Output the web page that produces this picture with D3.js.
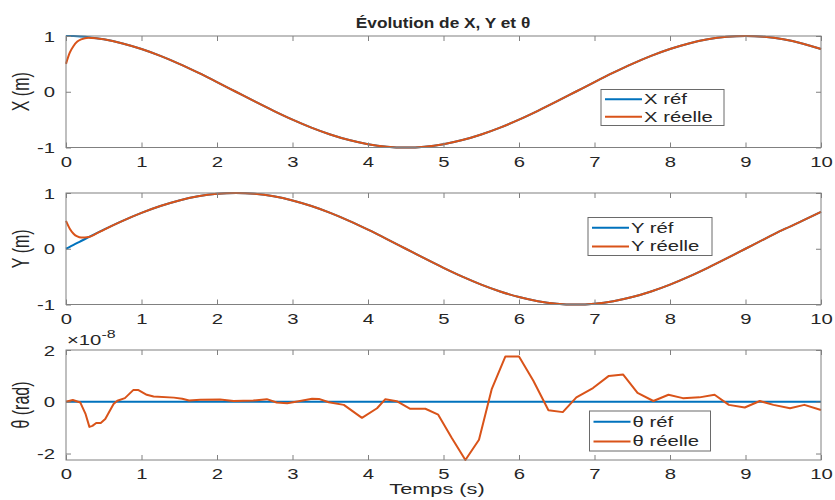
<!DOCTYPE html>
<html>
<head>
<meta charset="utf-8">
<script src="https://cdn.jsdelivr.net/npm/d3@7"></script>
<style>
  body { margin: 0; background: #fff; }
  text { font-family: "Liberation Sans", Arial, sans-serif; fill: #262626; }
</style>
</head>
<body>
<div id="chart"></div>
<script>
// time samples (s) for X and Y
var timeXY = [0, 0.05, 0.1, 0.15, 0.2, 0.3, 0.4, 0.5,
  0.75, 1, 1.25, 1.5, 1.75, 2, 2.25, 2.5, 2.75, 3, 3.25, 3.5, 3.75, 4, 4.25, 4.5,
  4.75, 5, 5.25, 5.5, 5.75, 6, 6.25, 6.5, 6.75, 7, 7.25, 7.5, 7.75, 8, 8.25, 8.5,
  8.75, 9, 9.25, 9.5, 9.75, 10];

var xRef = [1, 0.999, 0.998, 0.995, 0.99, 0.978, 0.961, 0.94,
  0.866, 0.766, 0.643, 0.5, 0.342, 0.174, 0, -0.174, -0.342, -0.5, -0.643, -0.766, -0.866, -0.94, -0.985, -1,
  -0.985, -0.94, -0.866, -0.766, -0.643, -0.5, -0.342, -0.174, 0, 0.174, 0.342, 0.5, 0.643, 0.766, 0.866, 0.94,
  0.985, 1, 0.985, 0.94, 0.866, 0.766];
var xReal = [0.5, 0.7, 0.82, 0.9, 0.94, 0.97, 0.96, 0.94,
  0.866, 0.766, 0.643, 0.5, 0.342, 0.174, 0, -0.174, -0.342, -0.5, -0.643, -0.766, -0.866, -0.94, -0.985, -1,
  -0.985, -0.94, -0.866, -0.766, -0.643, -0.5, -0.342, -0.174, 0, 0.174, 0.342, 0.5, 0.643, 0.766, 0.866, 0.94,
  0.985, 1, 0.985, 0.94, 0.866, 0.766];

var yRef = [0, 0.035, 0.07, 0.105, 0.139, 0.208, 0.276, 0.342,
  0.5, 0.643, 0.766, 0.866, 0.94, 0.985, 1, 0.985, 0.94, 0.866, 0.766, 0.643, 0.5, 0.342, 0.174, 0,
  -0.174, -0.342, -0.5, -0.643, -0.766, -0.866, -0.94, -0.985, -1, -0.985, -0.94, -0.866, -0.766, -0.643, -0.5, -0.342,
  -0.174, 0, 0.174, 0.342, 0.5, 0.66];
var yReal = [0.5, 0.36, 0.27, 0.22, 0.2, 0.21, 0.27, 0.34,
  0.5, 0.643, 0.766, 0.866, 0.94, 0.985, 1, 0.985, 0.94, 0.866, 0.766, 0.643, 0.5, 0.342, 0.174, 0,
  -0.174, -0.342, -0.5, -0.643, -0.766, -0.866, -0.94, -0.985, -1, -0.985, -0.94, -0.866, -0.766, -0.643, -0.5, -0.342,
  -0.174, 0, 0.174, 0.342, 0.5, 0.66];

// theta, in units of 1e-8 rad
var timeThetaRef = [0, 10];
var thetaRef = [0, 0];
var timeTheta = [0, 0.09, 0.19, 0.26, 0.31, 0.35, 0.4, 0.46, 0.52, 0.63, 0.68, 0.78, 0.89, 0.96,
  1.07, 1.16, 1.43, 1.54, 1.63, 1.78, 2.04, 2.22, 2.48, 2.66, 2.79, 2.93, 3.1, 3.26, 3.35, 3.48,
  3.68, 3.92, 4.12, 4.23, 4.38, 4.56, 4.76, 4.93, 5.11, 5.29, 5.47, 5.64, 5.82, 6, 6.19, 6.39,
  6.58, 6.76, 6.98, 7.19, 7.38, 7.57, 7.78, 7.98, 8.17, 8.39, 8.59, 8.78, 8.99, 9.19, 9.37, 9.59,
  9.78, 10];
var thetaReal = [0, 0.07, -0.03, -0.48, -0.97, -0.93, -0.82, -0.82, -0.67, -0.09, 0.04, 0.14, 0.45, 0.45,
  0.27, 0.2, 0.16, 0.12, 0.05, 0.08, 0.09, 0.03, 0.05, 0.1, -0.03, -0.06, 0.03, 0.12, 0.11, -0.02,
  -0.12, -0.62, -0.25, 0.1, 0.02, -0.27, -0.27, -0.5, -1.4, -2.25, -1.47, 0.5, 1.75, 1.75, 0.81, -0.33,
  -0.4, 0.17, 0.53, 1, 1.05, 0.34, 0.03, 0.27, 0.14, 0.17, 0.27, -0.12, -0.22, 0.03, -0.12, -0.25,
  -0.12, -0.32];

var xTicks = [0, 1, 2, 3, 4, 5, 6, 7, 8, 9, 10];
var blue = "#0072BD", orange = "#D95319";

var svgWidth = 835, svgHeight = 500;
var left = 66, right = 821;
var sx = 1.45; // wide glyphs of the original

var svg = d3.select("#chart").append("svg")
  .attr("width", svgWidth)
  .attr("height", svgHeight);

var xScale = d3.scaleLinear().domain([0, 10]).range([left, right]);
var fmt = d => String(d); // plain hyphen minus, as in the original

var panels = [
  { top: 36, bottom: 147.5, domain: [-1, 1], ticks: [-1, 0, 1], ylabel: "X (m)",
    series: [[timeXY, xRef, "X réf"], [timeXY, xReal, "X réelle"]],
    legend: { x: 601, y: 89.5, w: 123, h: 36 } },
  { top: 193, bottom: 304.5, domain: [-1, 1], ticks: [-1, 0, 1], ylabel: "Y (m)",
    series: [[timeXY, yRef, "Y réf"], [timeXY, yReal, "Y réelle"]],
    legend: { x: 588, y: 217.5, w: 124, h: 38 } },
  { top: 350, bottom: 460, domain: [-2.25, 2], ticks: [-2, 0, 2], ylabel: "θ (rad)",
    series: [[timeThetaRef, thetaRef, "θ réf"], [timeTheta, thetaReal, "θ réelle"]],
    legend: { x: 589.5, y: 411, w: 121, h: 40 } }
];

var colors = [blue, orange];

panels.forEach(function(p, i) {
  var yScale = d3.scaleLinear().domain(p.domain).range([p.bottom, p.top]);
  var g = svg.append("g");

  // lines
  p.series.forEach(function(s, k) {
    var pts = s[0].map(function(t, j) { return [t, s[1][j]]; });
    g.append("path")
      .datum(pts)
      .attr("fill", "none")
      .attr("stroke", colors[k])
      .attr("stroke-width", 2)
      .attr("stroke-linejoin", "round")
      .attr("d", d3.line()
        .x(d => xScale(d[0]))
        .y(d => yScale(d[1]))
        .curve(i < 2 ? d3.curveMonotoneX : d3.curveLinear));
  });

  // axes with inward ticks on all four sides
  var axB = g.append("g").attr("transform", `translate(0,${p.bottom})`)
    .call(d3.axisBottom(xScale).tickValues(xTicks).tickSize(-5).tickFormat(fmt));
  var axT = g.append("g").attr("transform", `translate(0,${p.top})`)
    .call(d3.axisTop(xScale).tickValues(xTicks).tickSize(-5).tickFormat(""));
  var axL = g.append("g").attr("transform", `translate(${left},0)`)
    .call(d3.axisLeft(yScale).tickValues(p.ticks).tickSize(-5).tickFormat(fmt));
  var axR = g.append("g").attr("transform", `translate(${right},0)`)
    .call(d3.axisRight(yScale).tickValues(p.ticks).tickSize(-5).tickFormat(""));

  [axB, axT, axL, axR].forEach(function(a) {
    a.select(".domain").remove();
    a.selectAll("line").attr("stroke", "#808080");
  });

  axB.selectAll("text")
    .attr("y", 0).attr("dy", 0)
    .attr("font-size", 14)
    .attr("transform", `translate(0,19) scale(${sx},1)`);
  axL.selectAll("text")
    .attr("x", 0).attr("dy", "0.36em")
    .attr("font-size", 14)
    .attr("text-anchor", "end")
    .attr("transform", `translate(-11,0) scale(${sx},1)`);

  // box
  g.append("rect")
    .attr("x", left).attr("y", p.top)
    .attr("width", right - left).attr("height", p.bottom - p.top)
    .attr("fill", "none").attr("stroke", "#808080").attr("stroke-width", 1);

  // y label
  g.append("text")
    .attr("transform", `translate(29,${(p.top + p.bottom) / 2}) rotate(-90) scale(1,${sx})`)
    .attr("text-anchor", "middle")
    .attr("font-size", 16)
    .text(p.ylabel);

  // legend
  var L = p.legend;
  var lg = g.append("g").attr("transform", `translate(${L.x},${L.y})`);
  lg.append("rect")
    .attr("width", L.w).attr("height", L.h)
    .attr("fill", "#fff").attr("stroke", "#6a6a6a").attr("stroke-width", 1);
  p.series.forEach(function(s, k) {
    var ry = L.h * (k === 0 ? 0.27 : 0.76);
    lg.append("line")
      .attr("x1", 4).attr("x2", 41).attr("y1", ry).attr("y2", ry)
      .attr("stroke", colors[k]).attr("stroke-width", 2);
    lg.append("text")
      .attr("transform", `translate(43,${ry + 5}) scale(1.45,1)`)
      .attr("font-size", 14)
      .text(s[2]);
  });
});

// exponent on theta axis
var ex = svg.append("text")
  .attr("transform", `translate(67,345) scale(${sx},1)`)
  .attr("font-size", 14);
ex.append("tspan").text("×10");
ex.append("tspan").attr("dy", -7).attr("font-size", 11).text("-8");

// title
svg.append("text")
  .attr("transform", `translate(443,28) scale(1.15,1)`)
  .attr("text-anchor", "middle")
  .attr("font-size", 15)
  .attr("font-weight", "bold")
  .attr("fill", "#000")
  .text("Évolution de X, Y et θ");

// x label
svg.append("text")
  .attr("transform", `translate(437,494) scale(${sx},1)`)
  .attr("text-anchor", "middle")
  .attr("font-size", 15)
  .text("Temps (s)");
</script>
</body>
</html>
